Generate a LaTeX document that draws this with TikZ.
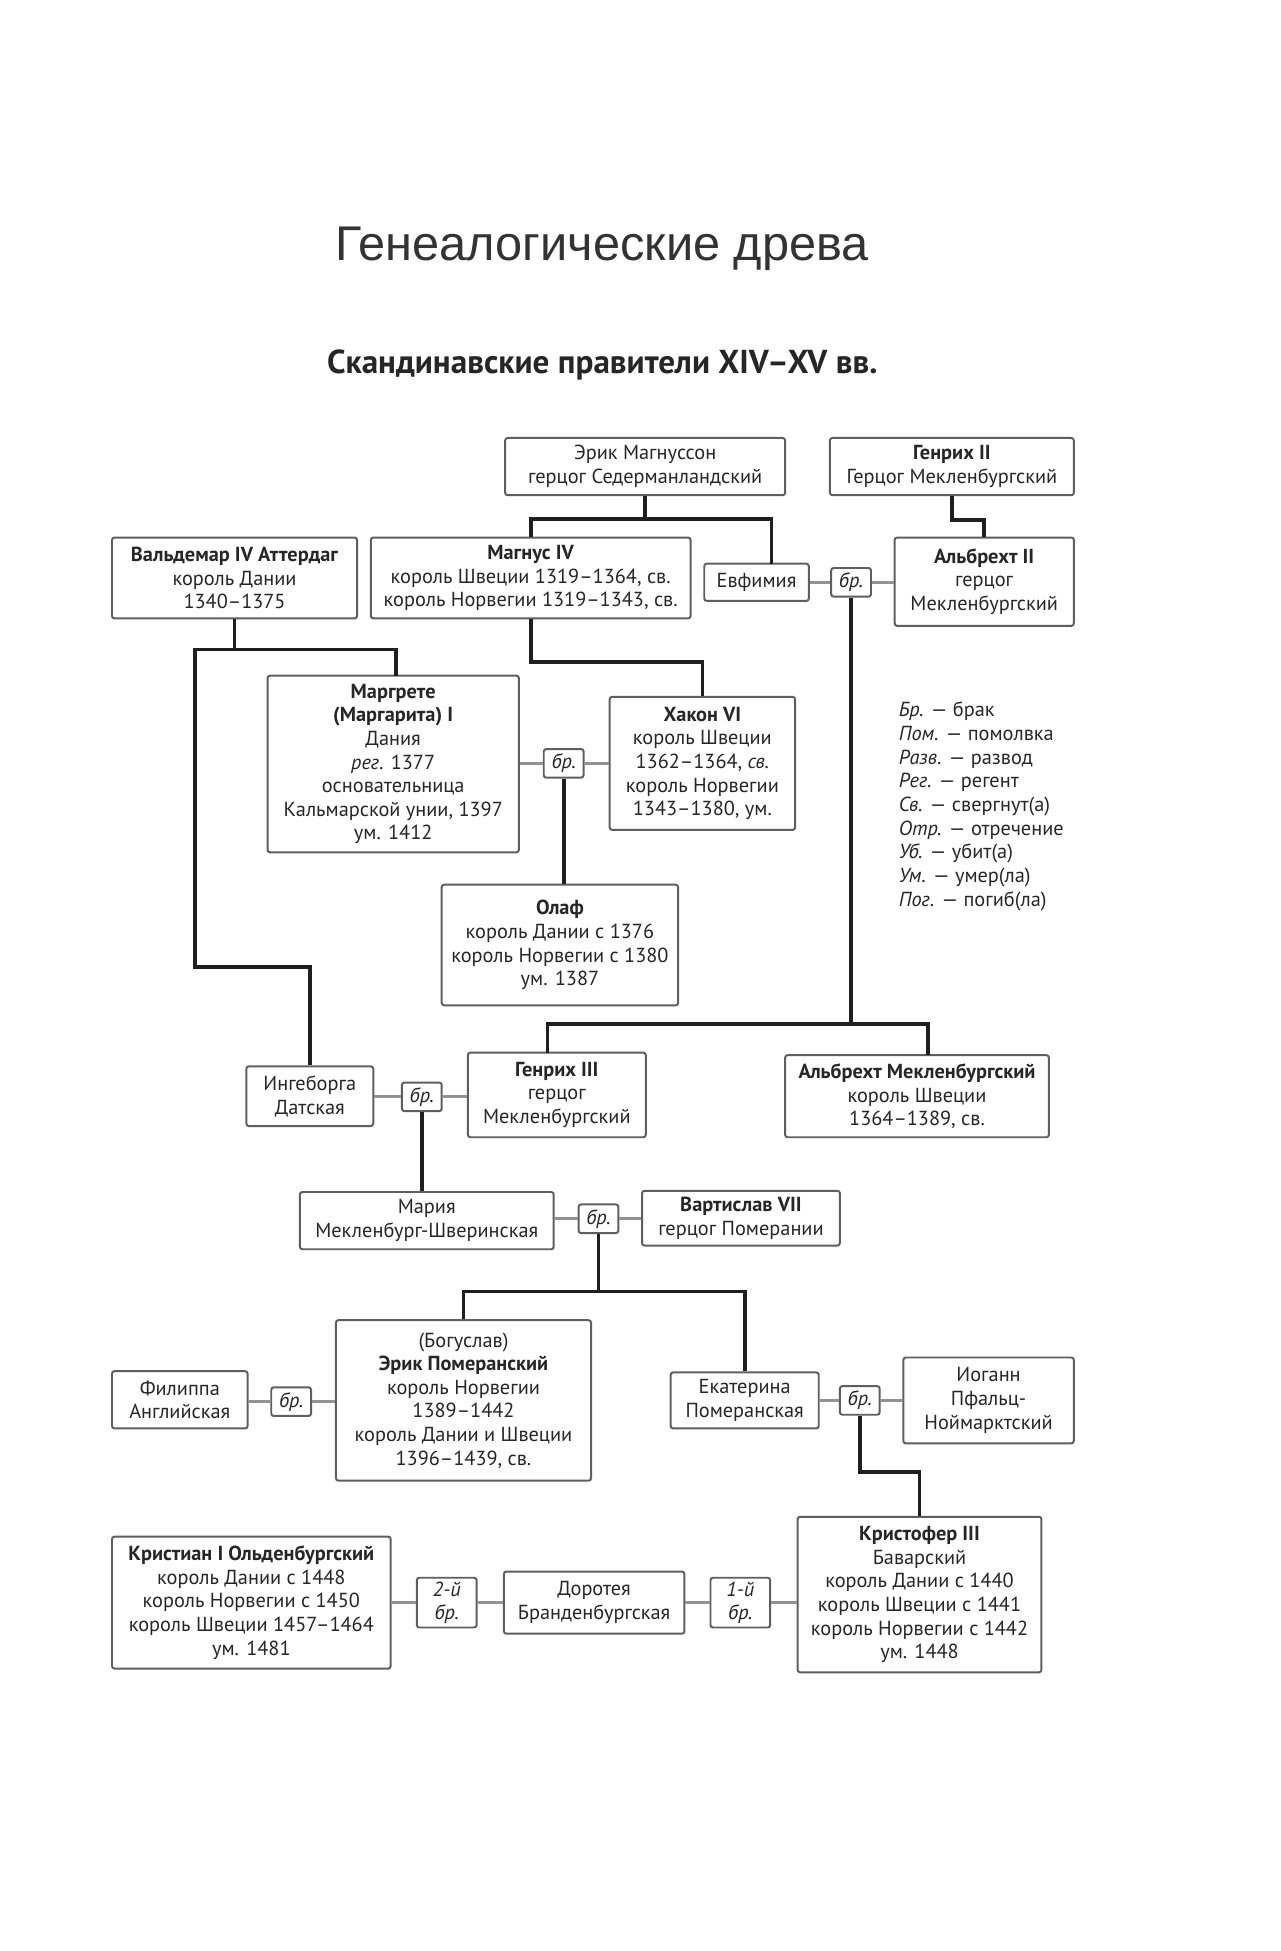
\documentclass[tikz,border=0pt]{standalone}
\usepackage{fontspec}
\setmainfont{PT Sans}
\newfontfamily\titlefont{Liberation Sans}
\definecolor{boxc}{HTML}{5E5E5E}
\definecolor{txt}{HTML}{262626}
\newcommand\bxfont{\fontsize{9.8}{11.4}\selectfont}
\begin{document}
\begin{tikzpicture}[x=0.6pt,y=-0.6pt,
 box/.style={draw=boxc, line width=0.95pt, rounded corners=1.2pt, fill=white, align=center, inner sep=0pt, font=\bxfont, text=txt},
 sz/.style 2 args={minimum width=#1*0.6pt, minimum height=#2*0.6pt},
 brbox/.style={box, font=\bxfont\itshape},
 kin/.style={draw=black!88, line width=1.8pt},
 sp/.style={draw=gray!85, line width=1.3pt},
]
\fill[white] (0,0) rectangle (1029,1568);
\useasboundingbox (0,0) rectangle (1029,1568);

\node[font=\titlefont\fontsize{23.5}{28}\selectfont, text=black!80] (title) at (484,200) {Генеалогические древа};
\node[font=\bfseries\fontsize{16}{19}\selectfont, text=black!85] (sub) at (484,293) {Скандинавские правители XIV–XV вв.};

% boxes
\node[box, sz={225}{46}] (erik) at (518.5,375) {Эрик Магнуссон\\герцог Седерманландский};
\node[box, sz={196}{46}] (henr2) at (765,375) {\textbf{Генрих II}\\Герцог Мекленбургский};
\node[box, sz={197}{65}] (vald) at (188.5,464.5) {\textbf{Вальдемар IV Аттердаг}\\король Дании\\1340–1375};
\node[box, sz={257}{65}] (magn) at (426.5,464.5) {\textbf{Магнус IV}\\король Швеции 1319–1364, св.\\король Норвегии 1319–1343, св.};
\node[box, sz={84}{30}] (evf) at (608,468) {Евфимия};
\node[brbox, sz={32}{23}] (br1) at (684,468) {бр.};
\node[box, sz={144}{71}] (albr2) at (791,467.5) {\textbf{Альбрехт II}\\герцог\\Мекленбургский};
\node[box, sz={202}{142}] (marg) at (316,614) {\textbf{Маргрете}\\\textbf{(Маргарита) I}\\Дания\\\textit{рег.} 1377\\основательница\\Кальмарской унии, 1397\\ум. 1412};
\node[brbox, sz={32}{23}] (br2) at (453,613.5) {бр.};
\node[box, sz={149}{107}] (hakon) at (564.5,613.5) {\textbf{Хакон VI}\\король Швеции\\1362–1364, \textit{св.}\\король Норвегии\\1343–1380, ум.};
\node[box, sz={190}{97}] (olaf) at (450,759.5) {\textbf{Олаф}\\король Дании с 1376\\король Норвегии с 1380\\ум. 1387};
\node[anchor=north west, align=left, font=\bxfont, text=txt, inner sep=0pt] (legend) at (722,564)
 {\textit{Бр.} — брак\\\textit{Пом.} — помолвка\\\textit{Разв.} — развод\\\textit{Рег.} — регент\\\textit{Св.} — свергнут(а)\\\textit{Отр.} — отречение\\\textit{Уб.} — убит(а)\\\textit{Ум.} — умер(ла)\\\textit{Пог.} — погиб(ла)};
\node[box, sz={102}{48}] (ingeb) at (249,881) {Ингеборга\\Датская};
\node[brbox, sz={32}{23}] (br3) at (339,881.5) {бр.};
\node[box, sz={143}{68}] (henr3) at (447.5,880) {\textbf{Генрих III}\\герцог\\Мекленбургский};
\node[box, sz={212}{66}] (albrM) at (737,881) {\textbf{Альбрехт Мекленбургский}\\король Швеции\\1364–1389, св.};
\node[box, sz={204}{46}] (maria) at (343,981) {Мария\\Мекленбург-Шверинская};
\node[brbox, sz={32}{23}] (br4) at (481,979.5) {бр.};
\node[box, sz={159}{44}] (vart) at (595.5,979) {\textbf{Вартислав VII}\\герцог Померании};
\node[box, sz={205}{129}] (erikP) at (372.5,1125.5) {(Богуслав)\\\textbf{Эрик Померанский}\\король Норвегии\\1389–1442\\король Дании и Швеции\\1396–1439, св.};
\node[box, sz={109}{46}] (filip) at (144.5,1125) {Филиппа\\Английская};
\node[brbox, sz={32}{23}] (br5) at (234,1126.5) {бр.};
\node[box, sz={119}{45}] (ekat) at (598.5,1125.5) {Екатерина\\Померанская};
\node[brbox, sz={32}{23}] (br6) at (691,1125.5) {бр.};
\node[box, sz={137}{69}] (iog) at (794.5,1125.5) {Иоганн\\Пфальц-\\Ноймарктский};
\node[box, sz={224}{106}] (krist) at (202,1288) {\textbf{Кристиан I Ольденбургский}\\король Дании с 1448\\король Норвегии с 1450\\король Швеции 1457–1464\\ум. 1481};
\node[brbox, sz={48}{40}] (br7) at (359,1288) {2-й\\бр.};
\node[box, sz={145}{50}] (dor) at (477.5,1288) {Доротея\\Бранденбургская};
\node[brbox, sz={48}{40}] (br8) at (595,1288) {1-й\\бр.};
\node[box, sz={196}{125}] (kristof) at (739,1281.5) {\textbf{Кристофер III}\\Баварский\\король Дании с 1440\\король Швеции с 1441\\король Норвегии с 1442\\ум. 1448};

% spouse lines
\foreach \l/\b/\r in {evf/br1/albr2, marg/br2/hakon, ingeb/br3/henr3, maria/br4/vart, filip/br5/erikP, ekat/br6/iog, krist/br7/dor, dor/br8/kristof}{
  \draw[sp] (\b.west) -- (\b.west -| \l.east);
  \draw[sp] (\b.east) -- (\b.east -| \r.west);
}

% kinship lines
\coordinate (j1) at (518.5,417);
\coordinate (evftop) at (620,453);
\draw[kin] (erik.south) -- (j1);
\draw[kin] (magn.north) |- (j1) -| (evftop);
\draw[kin] (henr2.south) -- ++(0,19) -| (albr2.north);

\coordinate (v1) at (157,522);
\coordinate (v2) at (157,777);
\coordinate (margtop) at (318,543);
\draw[kin] (vald.south) -- (vald.south |- v1);
\draw[kin] (margtop) |- (v1) -- (v2) -| (ingeb.north);
\draw[kin] (magn.south) -- ++(0,34) -| (hakon.north);
\draw[kin] (br2.south) -- (br2.south |- olaf.north);

\coordinate (j6) at (684,823);
\coordinate (h3top) at (440,846);
\coordinate (amtop) at (746,848);
\draw[kin] (br1.south) -- (j6);
\draw[kin] (h3top) |- (j6) -| (amtop);
\draw[kin] (br3.south) -- (br3.south |- maria.north);

\coordinate (j8) at (481,1038);
\draw[kin] (br4.south) -- (j8);
\draw[kin] (erikP.north) |- (j8) -| (ekat.north);
\draw[kin] (br6.south) -- ++(0,45) -| (kristof.north);
\end{tikzpicture}
\end{document}
